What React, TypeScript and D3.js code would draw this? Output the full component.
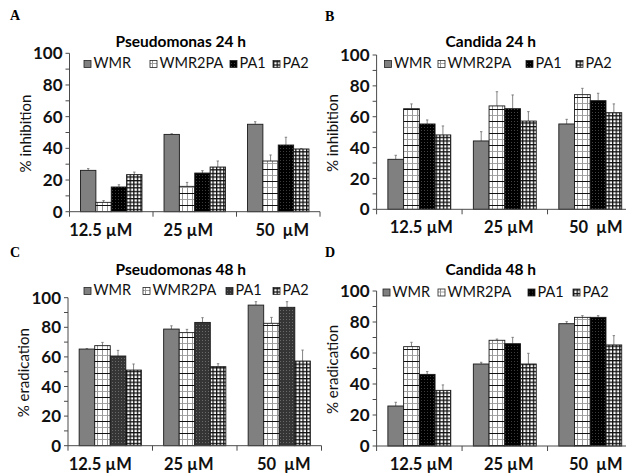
import React from "react";
import * as d3 from "d3";

const categories = ["12.5 µM", "25 µM", "50  µM"];
const seriesNames = ["WMR", "WMR2PA", "PA1", "PA2"];
const yTicks = [0, 20, 40, 60, 80, 100];

// values per series [12.5, 25, 50]
const pseudomonas24h = [
  [26.1, 48.8, 55.2],
  [5.9, 16.0, 32.0],
  [15.6, 24.4, 42.1],
  [23.4, 28.2, 39.6],
];
const pseudomonas24hErr = [
  [1.1, 0.4, 1.6],
  [1.1, 2.5, 3.8],
  [1.4, 1.5, 4.9],
  [1.6, 3.8, 0.3],
];
const candida24h = [
  [32.4, 44.3, 55.3],
  [65.2, 67.0, 74.3],
  [55.3, 65.2, 70.4],
  [48.2, 57.2, 62.6],
];
const candida24hErr = [
  [2.6, 6.0, 3.0],
  [3.1, 9.2, 4.1],
  [2.6, 8.9, 4.8],
  [5.8, 6.1, 5.7],
];
const pseudomonas48h = [
  [65.3, 78.8, 95.0],
  [67.6, 76.4, 82.7],
  [60.6, 83.3, 93.5],
  [51.1, 53.4, 57.2],
];
const pseudomonas48hErr = [
  [0.3, 2.2, 2.3],
  [2.2, 2.2, 4.0],
  [3.8, 3.2, 3.8],
  [4.1, 2.0, 7.4],
];
const candida48h = [
  [25.8, 52.9, 78.9],
  [64.1, 68.2, 83.0],
  [46.2, 66.0, 83.0],
  [35.9, 52.9, 65.2],
];
const candida48hErr = [
  [2.4, 1.1, 1.3],
  [2.8, 0.8, 1.1],
  [1.8, 4.1, 1.1],
  [3.5, 6.9, 6.0],
];

const FONT = "Lato, 'Open Sans', sans-serif";

type Panel = {
  id: string;
  letter: string;
  title: string;
  yTitle: string;
  values: number[][];
  errs: number[][];
  x0: number;
  x1: number;
  yTop: number;
  yBot: number;
  letterX: number;
  letterY: number;
  titleY: number;
  legendY: number;
  legendX: number[];
  labelShift: number[];
  pa1Bg: string;
  pa1Dot: string;
};

const panels: Panel[] = [
  {
    id: "A", letter: "A", title: "Pseudomonas 24 h", yTitle: "% inhibition",
    values: pseudomonas24h, errs: pseudomonas24hErr,
    x0: 69.5, x1: 320, yTop: 53.3, yBot: 211.7,
    letterX: 10, letterY: 20, titleY: 46.5, legendY: 68,
    legendX: [84, 150, 230, 273], labelShift: [-10.5, -6.5, 4],
    pa1Bg: "#000", pa1Dot: "#3c3c3c",
  },
  {
    id: "B", letter: "B", title: "Candida 24 h", yTitle: "% inhibition",
    values: candida24h, errs: candida24hErr,
    x0: 376.6, x1: 633, yTop: 55, yBot: 209.3,
    letterX: 325, letterY: 21, titleY: 46.5, legendY: 68,
    legendX: [384.5, 438, 526, 576], labelShift: [2, 4, 5.5],
    pa1Bg: "#000", pa1Dot: "#444",
  },
  {
    id: "C", letter: "C", title: "Pseudomonas 48 h", yTitle: "% eradication",
    values: pseudomonas48h, errs: pseudomonas48hErr,
    x0: 68, x1: 321.5, yTop: 297.7, yBot: 445.7,
    letterX: 10, letterY: 257, titleY: 274.5, legendY: 295,
    legendX: [84, 143, 226, 273], labelShift: [-10, -6, 4.5],
    pa1Bg: "#353535", pa1Dot: "#6a6a6a",
  },
  {
    id: "D", letter: "D", title: "Candida 48 h", yTitle: "% eradication",
    values: candida48h, errs: candida48hErr,
    x0: 376.6, x1: 633, yTop: 291, yBot: 446,
    letterX: 325, letterY: 257, titleY: 274.5, legendY: 296.5,
    legendX: [383, 438, 528, 573], labelShift: [2, 4, 5.5],
    pa1Bg: "#000", pa1Dot: "#3c3c3c",
  },
];

function Patterns({ p }: { p: Panel }) {
  return (
    <>
      <pattern id={`wmr2pa-${p.id}`} patternUnits="userSpaceOnUse" width={5} height={12}>
        <rect width={5} height={12} fill="#fff" />
        <line x1={2.5} y1={0} x2={2.5} y2={12} stroke="#8a8a8a" strokeWidth={0.9} />
        <line x1={0} y1={1.5} x2={5} y2={1.5} stroke="#111" strokeWidth={1} />
        <line x1={0} y1={7.5} x2={5} y2={7.5} stroke="#9a9a9a" strokeWidth={0.9} />
      </pattern>
      <pattern id={`pa1-${p.id}`} patternUnits="userSpaceOnUse" width={3} height={3}>
        <rect width={3} height={3} fill={p.pa1Bg} />
        <rect x={1} y={1} width={1} height={1} fill={p.pa1Dot} />
      </pattern>
      <pattern id={`pa2-${p.id}`} patternUnits="userSpaceOnUse" width={3.6} height={3.6}>
        <rect width={3.6} height={3.6} fill="#fff" />
        <rect x={0} y={0} width={3.6} height={1.3} fill="#111" />
        <rect x={0} y={0} width={1.3} height={3.6} fill="#111" />
      </pattern>
    </>
  );
}

function fillFor(p: Panel, s: number) {
  if (s === 0) return "#808080";
  if (s === 1) return `url(#wmr2pa-${p.id})`;
  if (s === 2) return `url(#pa1-${p.id})`;
  return `url(#pa2-${p.id})`;
}

function PanelChart({ p }: { p: Panel }) {
  const x = d3.scaleBand<string>().domain(categories).range([p.x0, p.x1]).padding(0);
  const y = d3.scaleLinear().domain([0, 100]).range([p.yBot, p.yTop]);
  const bw = x.bandwidth() * 0.184;
  const inner = d3.scaleBand<number>().domain([0, 1, 2, 3]).range([0, bw * 4]).padding(0);
  const groupOff = (x.bandwidth() - bw * 4) / 2;
  const minor = d3.range(0, 101, 10);
  const bounds = [...categories.map((c) => x(c) as number), p.x1];
  const axisColor = "#4a4a4a";
  return (
    <g>
      <text x={p.letterX} y={p.letterY} fontFamily="'Liberation Serif', 'Times New Roman', serif" fontWeight="bold" fontSize={14}>
        {p.letter}
      </text>
      <text x={(p.x0 + p.x1) / 2 - 14} y={p.titleY} textAnchor="middle" fontFamily={FONT} fontWeight="bold" fontSize={15.5}>
        {p.title}
      </text>
      {/* legend */}
      {seriesNames.map((n, s) => (
        <g key={n} transform={`translate(${p.legendX[s]},${p.legendY})`}>
          <rect x={0} y={-7.5} width={7} height={7} fill={fillFor(p, s)} stroke="#222" strokeWidth={0.8} />
          <text x={9.5} y={0} fontFamily={FONT} fontSize={14.5} fill="#111">
            {n}
          </text>
        </g>
      ))}
      {/* y axis */}
      <line x1={p.x0} y1={p.yTop} x2={p.x0} y2={p.yBot} stroke={axisColor} strokeWidth={1} />
      {minor.map((t) => (
        <line key={t} x1={p.x0 - 4} y1={y(t)} x2={p.x0} y2={y(t)} stroke={axisColor} strokeWidth={1} />
      ))}
      {yTicks.map((t) => (
        <text key={t} x={p.x0 - 7} y={y(t)} dy="0.36em" textAnchor="end" fontFamily={FONT} fontWeight="bold" fontSize={17} fill="#111">
          {t}
        </text>
      ))}
      <text
        transform={`translate(${p.x0 - 39},${(p.yTop + p.yBot) / 2 + 1}) rotate(-90)`}
        textAnchor="middle"
        fontFamily={FONT}
        fontSize={15}
        fill="#111"
      >
        {p.yTitle}
      </text>
      {/* bars */}
      {p.values.map((vals, s) =>
        vals.map((v, c) => {
          const bx = (x(categories[c]) as number) + groupOff + (inner(s) as number);
          const top = y(v);
          const eTop = y(v + p.errs[s][c]);
          const cx = bx + bw / 2;
          return (
            <g key={`${s}-${c}`}>
              <line x1={cx} y1={top} x2={cx} y2={eTop} stroke="#777" strokeWidth={0.9} />
              <line x1={cx - 1.2} y1={eTop} x2={cx + 1.2} y2={eTop} stroke="#777" strokeWidth={0.9} />
              <rect x={bx} y={top} width={bw} height={p.yBot - top} fill={fillFor(p, s)} stroke="#1a1a1a" strokeWidth={0.9} />
            </g>
          );
        })
      )}
      {/* x axis */}
      <line x1={p.x0} y1={p.yBot} x2={p.x1} y2={p.yBot} stroke={axisColor} strokeWidth={1} />
      {bounds.map((b, i) => (
        <line key={i} x1={b} y1={p.yBot} x2={b} y2={p.yBot + 5} stroke={axisColor} strokeWidth={1} />
      ))}
      {categories.map((c, i) => (
        <text
          key={c}
          x={(x(c) as number) + x.bandwidth() / 2 + p.labelShift[i]}
          y={p.yBot + 24}
          textAnchor="middle"
          fontFamily={FONT}
          fontWeight="bold"
          fontSize={16.5}
          fill="#111"
          style={{ whiteSpace: "pre" }}
        >
          {c}
        </text>
      ))}
    </g>
  );
}

export default function App() {
  return (
    <svg
      width={626}
      height={475}
      viewBox="0 0 626 475"
      style={{ position: "absolute", left: 0, top: 0, background: "#fff", display: "block" }}
    >
      <defs>
        {panels.map((p) => (
          <Patterns key={p.id} p={p} />
        ))}
      </defs>
      <rect width={626} height={475} fill="#fff" />
      {panels.map((p) => (
        <PanelChart key={p.id} p={p} />
      ))}
    </svg>
  );
}
